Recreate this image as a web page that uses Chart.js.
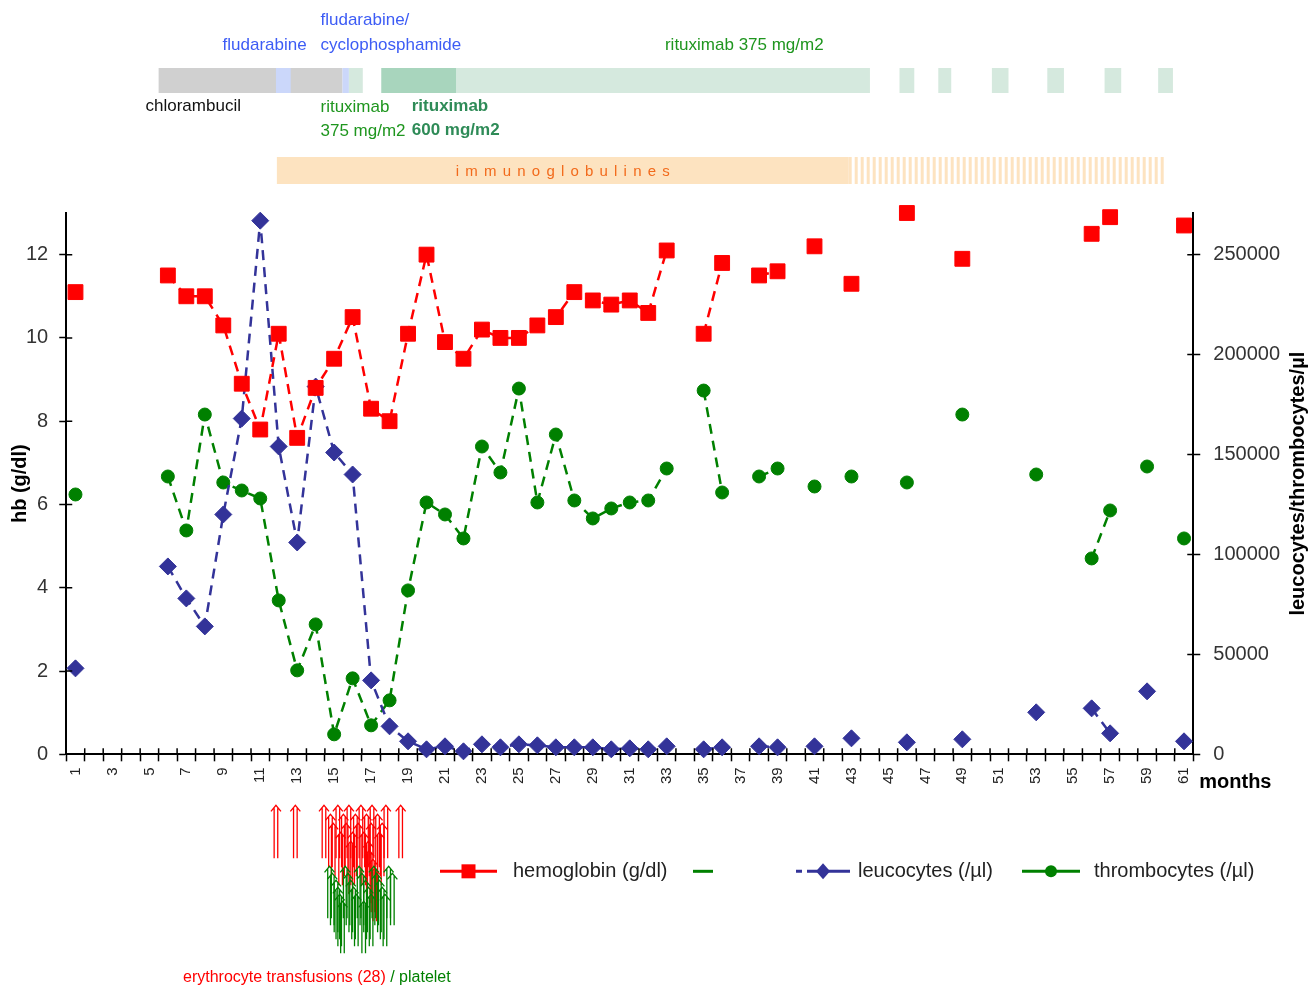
<!DOCTYPE html>
<html>
<head>
<meta charset="utf-8">
<script src="https://cdn.jsdelivr.net/npm/chart.js@4.4.1/dist/chart.umd.min.js"></script>
<style>
  html, body { margin: 0; padding: 0; background: #fff; }
  canvas { display: block; }
</style>
</head>
<body>
<canvas id="labChart" width="1310" height="986"></canvas>
<script>
// months since start (x categories)
var monthLabels = [1, 2, 3, 4, 5, 6, 7, 8, 9, 10, 11, 12, 13, 14, 15, 16, 17, 18, 19, 20,
  21, 22, 23, 24, 25, 26, 27, 28, 29, 30, 31, 32, 33, 34, 35, 36, 37, 38, 39, 40,
  41, 42, 43, 44, 45, 46, 47, 48, 49, 50, 51, 52, 53, 54, 55, 56, 57, 58, 59, 60, 61];

// hemoglobin g/dl
var hbMonths = [1, 6, 7, 8, 9, 10, 11, 12, 13, 14, 15, 16, 17, 18, 19, 20, 21, 22, 23, 24,
  25, 26, 27, 28, 29, 30, 31, 32, 33, 35, 36, 38, 39, 41, 43, 46, 49, 56, 57, 61];
var hbValues = [11.1, 11.5, 11.0, 11.0, 10.3, 8.9, 7.8, 10.1, 7.6, 8.8, 9.5, 10.5, 8.3, 8.0, 10.1, 12.0, 9.9, 9.5, 10.2, 10.0,
  10.0, 10.3, 10.5, 11.1, 10.9, 10.8, 10.9, 10.6, 12.1, 10.1, 11.8, 11.5, 11.6, 12.2, 11.3, 13.0, 11.9, 12.5, 12.9, 12.7];

// leucocytes and thrombocytes /µl (same sampling months)
var cellMonths = [1, 6, 7, 8, 9, 10, 11, 12, 13, 14, 15, 16, 17, 18, 19, 20, 21, 22, 23, 24,
  25, 26, 27, 28, 29, 30, 31, 32, 33, 35, 36, 38, 39, 41, 43, 46, 49, 53, 56, 57, 59, 61];
var leucoValues = [43000, 94000, 78000, 64000, 120000, 168000, 267000, 154000, 106000, 184000,
  151000, 140000, 37000, 14000, 6500, 2500, 4000, 1500, 5000, 3500,
  5000, 4500, 3500, 3500, 3500, 2500, 3000, 2500, 4000,
  2500, 3500, 4000, 3500, 4000, 8000, 6000, 7500, 21000, 23000, 10500, 31500, 6500];
var thromboValues = [130000, 139000, 112000, 170000, 136000, 132000, 128000, 77000, 42000, 65000,
  10000, 38000, 14500, 27000, 82000, 126000, 120000, 108000, 154000, 141000,
  183000, 126000, 160000, 127000, 118000, 123000, 126000, 127000, 143000,
  182000, 131000, 139000, 143000, 134000, 139000, 136000, 170000, 140000, 98000, 122000, 144000, 108000];

var hbTicks = [0, 2, 4, 6, 8, 10, 12];
var cellTicks = [0, 50000, 100000, 150000, 200000, 250000];

// treatment periods, in months
var chlorambucilSpan = [5.5, 15.45];
var fludarabineSpans = [[11.85, 12.65], [15.45, 15.8]];
var rituximab600Span = [17.55, 21.6];
var rituximab375Spans = [[15.8, 16.55], [21.6, 44.0], [45.6, 46.4], [47.7, 48.4], [50.6, 51.5], [53.6, 54.5], [56.7, 57.6], [59.6, 60.4]];
var immunoglobulinSpan = [11.9, 42.85];
var immunoglobulinIntermittent = [42.85, 59.9];

// transfusion dates, in months
var erythrocyteTransfusions = [11.85, 12.9, 14.45, 14.8, 14.95, 15.2, 15.35, 15.5, 15.65, 15.8, 15.9, 16.0, 16.15, 16.3,
  16.45, 16.6, 16.75, 16.85, 16.9, 17.0, 17.05, 17.1, 17.2, 17.35, 17.45, 17.6, 17.8, 18.6];
var plateletTransfusions = [14.75, 14.9, 15.1, 15.2, 15.3, 15.45, 15.6, 15.75, 15.9, 16.05, 16.2, 16.35,
  16.5, 16.6, 16.7, 16.85, 17.0, 17.15, 17.3, 17.45, 17.6, 17.75, 17.95, 18.15];

var FONT = '"Liberation Sans", Arial, sans-serif';

function seriesFor(mths, vals) {
  var arr = monthLabels.map(function () { return null; });
  mths.forEach(function (m, i) { arr[monthLabels.indexOf(m)] = vals[i]; });
  return arr;
}

// put close arrows on lower rows so they stay readable
function stackLevels(times, gap) {
  var ends = [], levels = [];
  times.forEach(function (t) {
    var l = 0;
    while (ends[l] !== undefined && t - ends[l] < gap) l++;
    ends[l] = t;
    levels.push(l);
  });
  return levels;
}

function drawArrow(ctx, x, top, len, color) {
  ctx.strokeStyle = color;
  ctx.lineWidth = 1.3;
  ctx.beginPath();
  ctx.moveTo(x - 1.8, top + 3); ctx.lineTo(x - 1.8, top + len);
  ctx.moveTo(x + 1.8, top + 3); ctx.lineTo(x + 1.8, top + len);
  ctx.moveTo(x - 5, top + 6); ctx.lineTo(x, top); ctx.lineTo(x + 5, top + 6);
  ctx.stroke();
}

function legendEntry(ctx, x1, x2, y, color, style, dashLeft) {
  ctx.strokeStyle = color;
  ctx.fillStyle = color;
  ctx.lineWidth = 3;
  var mid = (x1 + x2) / 2;
  ctx.beginPath();
  if (dashLeft) {
    ctx.moveTo(x1, y); ctx.lineTo(x1 + 6, y);
    ctx.moveTo(x1 + 11, y); ctx.lineTo(x2, y);
  } else {
    ctx.moveTo(x1, y); ctx.lineTo(x2, y);
  }
  ctx.stroke();
  if (style === 'rect') ctx.fillRect(mid - 7, y - 7, 14, 14);
  if (style === 'diamond') {
    ctx.beginPath();
    ctx.moveTo(mid, y - 8); ctx.lineTo(mid + 7, y); ctx.lineTo(mid, y + 8); ctx.lineTo(mid - 7, y);
    ctx.closePath(); ctx.fill();
  }
  if (style === 'circle') {
    ctx.beginPath(); ctx.arc(mid, y, 6, 0, Math.PI * 2); ctx.fill();
  }
}

var decorPlugin = {
  id: 'decor',
  afterDraw: function (chart) {
    var ctx = chart.ctx;
    var xs = chart.scales.x, yl = chart.scales.y, yr = chart.scales.y1;
    var area = chart.chartArea;
    var mx = function (m) { return xs.getPixelForValue(m - 1); };
    ctx.save();

    // inner half of the tick marks
    ctx.strokeStyle = '#000';
    ctx.lineWidth = 1.5;
    ctx.beginPath();
    yl.ticks.forEach(function (t) {
      var y = yl.getPixelForValue(t.value);
      ctx.moveTo(area.left, y); ctx.lineTo(area.left + 6, y);
    });
    yr.ticks.forEach(function (t) {
      var y = yr.getPixelForValue(t.value);
      ctx.moveTo(area.right - 6, y); ctx.lineTo(area.right, y);
    });
    for (var i = 0; i <= monthLabels.length; i++) {
      var bx = xs.getPixelForValue(i - 0.5);
      ctx.moveTo(bx, area.bottom - 6); ctx.lineTo(bx, area.bottom);
    }
    ctx.stroke();

    // treatment bars
    var barTop = area.top - 145, barH = 25;
    var fillSpan = function (s, color, top, h) {
      ctx.fillStyle = color;
      ctx.fillRect(mx(s[0]), top, mx(s[1]) - mx(s[0]), h);
    };
    fillSpan(chlorambucilSpan, '#d0d0d0', barTop, barH);
    fludarabineSpans.forEach(function (s) { fillSpan(s, '#cbd7fa', barTop, barH); });
    rituximab375Spans.forEach(function (s) { fillSpan(s, '#d5e9de', barTop, barH); });
    fillSpan(rituximab600Span, '#a8d5bd', barTop, barH);

    var igTop = area.top - 56, igH = 27;
    fillSpan(immunoglobulinSpan, '#fde3c0', igTop, igH);
    ctx.fillStyle = '#fde3c0';
    for (var sx = mx(immunoglobulinIntermittent[0]); sx < mx(immunoglobulinIntermittent[1]); sx += 6) {
      ctx.fillRect(sx, igTop, 3, igH);
    }
    // letter-spaced bar label
    ctx.font = '15px ' + FONT;
    ctx.fillStyle = '#f26a1b';
    ctx.textBaseline = 'middle';
    var word = 'immunoglobulines', spacing = 6.2, w = 0;
    for (var c = 0; c < word.length; c++) w += ctx.measureText(word[c]).width + (c ? spacing : 0);
    var cx = (mx(immunoglobulinSpan[0]) + mx(immunoglobulinSpan[1])) / 2 - w / 2;
    for (c = 0; c < word.length; c++) {
      ctx.fillText(word[c], cx, igTop + igH / 2 + 1);
      cx += ctx.measureText(word[c]).width + spacing;
    }

    // treatment labels
    ctx.textAlign = 'left';
    ctx.font = '17px ' + FONT;
    ctx.fillStyle = '#3d5cf5';
    ctx.fillText('fludarabine', mx(8.96), area.top - 168);
    ctx.fillText('fludarabine/', mx(14.26), area.top - 193);
    ctx.fillText('cyclophosphamide', mx(14.26), area.top - 168);
    ctx.fillStyle = '#1f961f';
    ctx.textAlign = 'center';
    ctx.fillText('rituximab 375 mg/m2', mx(37.2), area.top - 168);
    ctx.textAlign = 'left';
    ctx.fillText('rituximab', mx(14.26), area.top - 106);
    ctx.fillText('375 mg/m2', mx(14.26), area.top - 82);
    ctx.fillStyle = '#111';
    ctx.fillText('chlorambucil', mx(4.79), area.top - 107);
    ctx.font = 'bold 17px ' + FONT;
    ctx.fillStyle = '#2e8b57';
    ctx.fillText('rituximab', mx(19.2), area.top - 107);
    ctx.fillText('600 mg/m2', mx(19.2), area.top - 83);

    // axis titles
    ctx.font = 'bold 20px ' + FONT;
    ctx.fillStyle = '#000';
    ctx.textAlign = 'center';
    var midY = (area.top + area.bottom) / 2;
    [[20, 'hb (g/dl)'], [1298, 'leucocytes/thrombocytes/\u00b5l']].forEach(function (t) {
      ctx.save();
      ctx.translate(t[0], midY);
      ctx.rotate(-Math.PI / 2);
      ctx.fillText(t[1], 0, 0);
      ctx.restore();
    });
    ctx.textAlign = 'left';
    ctx.fillText('months', area.right + 6, area.bottom + 28);

    // transfusion arrows
    var redLv = stackLevels(erythrocyteTransfusions, 0.6);
    erythrocyteTransfusions.forEach(function (t, i) {
      drawArrow(ctx, mx(t), area.bottom + 51 + redLv[i] * 9, 53, '#ff0000');
    });
    var greenLv = stackLevels(plateletTransfusions, 0.75);
    plateletTransfusions.forEach(function (t, i) {
      drawArrow(ctx, mx(t), area.bottom + 112 + greenLv[i] * 7, 52, '#008000');
    });
    ctx.font = '16px ' + FONT;
    ctx.textBaseline = 'middle';
    ctx.fillStyle = '#ff0000';
    var cap1 = 'erythrocyte transfusions (28) ';
    ctx.fillText(cap1, 183, area.bottom + 223);
    ctx.fillStyle = '#008000';
    ctx.fillText('/ platelet', 183 + ctx.measureText(cap1).width, area.bottom + 223);

    // legend
    var ly = area.bottom + 117;
    ctx.font = '20px ' + FONT;
    legendEntry(ctx, 440, 497, ly, '#ff0000', 'rect', false);
    ctx.fillStyle = '#222';
    ctx.fillText('hemoglobin (g/dl)', 513, ly);
    legendEntry(ctx, 693, 713, ly, '#008000', null, false);
    legendEntry(ctx, 796, 850, ly, '#333399', 'diamond', true);
    ctx.fillStyle = '#222';
    ctx.fillText('leucocytes (/\u00b5l)', 858, ly);
    legendEntry(ctx, 1022, 1080, ly, '#008000', 'circle', false);
    ctx.fillStyle = '#222';
    ctx.fillText('thrombocytes (/\u00b5l)', 1094, ly);

    ctx.restore();
  }
};

var ctx = document.getElementById('labChart').getContext('2d');
var chartInstance = new Chart(ctx, {
  type: 'line',
  data: {
    labels: monthLabels.map(String),
    datasets: [
      {
        label: 'hemoglobin (g/dl)',
        data: seriesFor(hbMonths, hbValues),
        yAxisID: 'y',
        borderColor: '#ff0000',
        backgroundColor: '#ff0000',
        borderWidth: 2.5,
        borderDash: [10, 7],
        pointStyle: 'rect',
        pointRadius: 10.5,
        pointBorderWidth: 1,
        clip: false
      },
      {
        label: 'leucocytes (/µl)',
        data: seriesFor(cellMonths, leucoValues),
        yAxisID: 'y1',
        borderColor: '#333399',
        backgroundColor: '#333399',
        borderWidth: 2.5,
        borderDash: [10, 7],
        pointStyle: 'rectRot',
        pointRadius: 8.5,
        pointBorderWidth: 1,
        clip: false
      },
      {
        label: 'thrombocytes (/µl)',
        data: seriesFor(cellMonths, thromboValues),
        yAxisID: 'y1',
        borderColor: '#008000',
        backgroundColor: '#008000',
        borderWidth: 2.5,
        borderDash: [10, 7],
        pointStyle: 'circle',
        pointRadius: 6.5,
        pointBorderWidth: 1,
        clip: false
      }
    ]
  },
  options: {
    responsive: false,
    animation: false,
    spanGaps: false,
    layout: { padding: { top: 213, left: 15, right: 17, bottom: 196 } },
    plugins: {
      legend: { display: false },
      tooltip: { enabled: false },
      title: { display: false }
    },
    font: { family: FONT },
    scales: {
      x: {
        type: 'category',
        offset: true,
        border: { display: true, color: '#000', width: 2 },
        grid: { offset: true, drawOnChartArea: false, tickLength: 7, tickColor: '#000', tickWidth: 1.5 },
        ticks: {
          autoSkip: false,
          maxRotation: 90,
          minRotation: 90,
          padding: 6,
          color: '#222',
          font: { family: FONT, size: 15 },
          callback: function (v, i) { return monthLabels[i] % 2 === 1 ? String(monthLabels[i]) : ''; }
        }
      },
      y: {
        position: 'left',
        min: 0,
        max: 13,
        afterBuildTicks: function (s) { s.ticks = hbTicks.map(function (v) { return { value: v }; }); },
        border: { display: true, color: '#000', width: 2 },
        grid: { drawOnChartArea: false, tickLength: 7, tickColor: '#000', tickWidth: 1.5 },
        ticks: { padding: 11, color: '#333', font: { family: FONT, size: 20 }, callback: function (v) { return String(v); } }
      },
      y1: {
        position: 'right',
        min: 0,
        max: 250000 * 13 / 12,
        afterBuildTicks: function (s) { s.ticks = cellTicks.map(function (v) { return { value: v }; }); },
        border: { display: true, color: '#000', width: 2 },
        grid: { drawOnChartArea: false, tickLength: 7, tickColor: '#000', tickWidth: 1.5 },
        ticks: { padding: 13, color: '#333', font: { family: FONT, size: 20 }, callback: function (v) { return String(v); } }
      }
    }
  },
  plugins: [decorPlugin]
});
</script>
</body>
</html>
